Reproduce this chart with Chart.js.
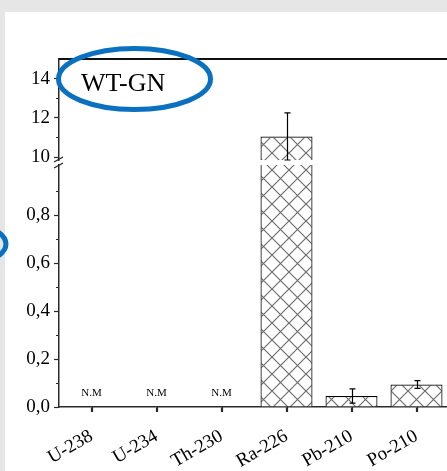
<!DOCTYPE html>
<html><head><meta charset="utf-8">
<script src="https://cdn.jsdelivr.net/npm/chart.js@4.4.1/dist/chart.umd.min.js"></script>
<style>
html,body{margin:0;padding:0;width:447px;height:471px;overflow:hidden;background:#e6e6e6;}
#panel{position:absolute;left:5px;top:12px;width:442px;height:459px;background:#fff;}
canvas{position:absolute;left:0;top:0;}
</style></head><body>
<div id="panel"></div>
<canvas id="lower" width="449" height="471" style="width:449px;height:471px"></canvas>
<canvas id="upper" width="449" height="471" style="width:449px;height:471px"></canvas>
<script>
// ---- data ----
const categories = ['U-238', 'U-234', 'Th-230', 'Ra-226', 'Pb-210', 'Po-210'];
const activity = [null, null, null, 11.05, 0.046, 0.094];
const errors = [null, null, null, 1.2, 0.03, 0.016];
const notMeasured = ['N.M', 'N.M', 'N.M', '', '', ''];
const nmLevel = 0.045;
const lowerRange = [0, 1.01];
const upperRange = [9.85, 15];
const lowerTicks = [0, 0.2, 0.4, 0.6, 0.8];
const lowerMinor = [0.1, 0.3, 0.5, 0.7, 0.9];
const upperTicks = [10, 12, 14];
const upperMinor = [11, 13];
const panelLabel = 'WT-GN';

// ---- styles ----
const FONT = '"Liberation Serif", "Times New Roman", serif';
const AXIS = '#2a2a2a';
function hatch() {
  const c = document.createElement('canvas'); c.width = c.height = 17;
  const g = c.getContext('2d');
  g.fillStyle = '#fff'; g.fillRect(0, 0, 17, 17);
  g.strokeStyle = '#6e6e6e'; g.lineWidth = 1.2;
  g.beginPath(); g.moveTo(0, 0); g.lineTo(17, 17); g.moveTo(17, 0); g.lineTo(0, 17); g.stroke();
  return g.createPattern(c, 'repeat');
}
const pattern = hatch();

const dataset = () => ({
  data: activity, backgroundColor: pattern, borderColor: '#000', borderWidth: 1.2,
  barPercentage: 0.8, categoryPercentage: 1.0
});

const errorBars = {
  id: 'errorBars',
  afterDatasetsDraw(chart) {
    const ctx = chart.ctx, x = chart.scales.x, y = chart.scales.y, a = chart.chartArea;
    ctx.save();
    ctx.beginPath(); ctx.rect(a.left, a.top - 1, a.right - a.left, a.bottom - a.top + 2); ctx.clip();
    ctx.strokeStyle = '#000'; ctx.lineWidth = 1.2;
    activity.forEach((v, i) => {
      if (v == null || errors[i] == null) return;
      const px = Math.round(x.getPixelForValue(i)) + 0.5;
      const y1 = y.getPixelForValue(v + errors[i]);
      const y2 = y.getPixelForValue(v - errors[i]);
      ctx.beginPath();
      ctx.moveTo(px, y1); ctx.lineTo(px, y2);
      ctx.moveTo(px - 3, y1); ctx.lineTo(px + 3, y1);
      ctx.moveTo(px - 3, y2); ctx.lineTo(px + 3, y2);
      ctx.stroke();
    });
    ctx.restore();
  }
};

function minorTicks(values, withX) {
  return {
    id: 'minorTicks',
    afterDraw(chart) {
      const ctx = chart.ctx, y = chart.scales.y, a = chart.chartArea;
      ctx.save(); ctx.strokeStyle = AXIS; ctx.lineWidth = 1;
      values.forEach(v => {
        const py = Math.round(y.getPixelForValue(v)) + 0.5;
        ctx.beginPath(); ctx.moveTo(a.left - 3, py); ctx.lineTo(a.left, py); ctx.stroke();
      });
      if (withX) {
        const x = chart.scales.x;
        ctx.lineWidth = 1.2;
        categories.forEach((c, i) => {
          const px = Math.round(x.getPixelForValue(i)) + 0.5;
          ctx.beginPath(); ctx.moveTo(px, a.bottom); ctx.lineTo(px, a.bottom + 5); ctx.stroke();
        });
      }
      ctx.restore();
    }
  };
}

function yScale(range, ticks, fmt) {
  return {
    min: range[0], max: range[1],
    afterFit(s) { s.width = 59; },
    afterBuildTicks(s) { s.ticks = ticks.map(v => ({ value: v })); },
    ticks: { font: { family: FONT, size: 19 }, color: '#000', padding: 4, callback: fmt },
    grid: { drawOnChartArea: false, tickLength: 5, tickColor: AXIS, tickWidth: 1.2 },
    border: { color: AXIS, width: 1.5 }
  };
}

// ---- lower segment ----
new Chart(document.getElementById('lower'), {
  type: 'bar',
  data: { labels: categories, datasets: [dataset()] },
  options: {
    responsive: false, animation: false,
    layout: { padding: { top: 165, left: 0, right: 0, bottom: 0 } },
    plugins: { legend: { display: false }, tooltip: { enabled: false } },
    scales: {
      x: {
        afterFit(s) { s.height = 64; },
        ticks: { font: { family: FONT, size: 19 }, color: '#000', maxRotation: 30, minRotation: 30, autoSkip: false, padding: 13 },
        grid: { offset: false, drawOnChartArea: false, tickLength: 5, tickColor: AXIS, tickWidth: 1.2 },
        border: { color: AXIS, width: 1.5 }
      },
      y: yScale(lowerRange, lowerTicks, v => v.toFixed(1).replace('.', ','))
    }
  },
  plugins: [errorBars, minorTicks(lowerMinor, true), {
    id: 'nm',
    afterDraw(chart) {
      const ctx = chart.ctx, x = chart.scales.x, y = chart.scales.y;
      ctx.save(); ctx.fillStyle = '#000'; ctx.font = '11px ' + FONT;
      ctx.textAlign = 'center'; ctx.textBaseline = 'alphabetic';
      notMeasured.forEach((t, i) => { if (t) ctx.fillText(t, x.getPixelForValue(i), y.getPixelForValue(nmLevel)); });
      ctx.restore();
    }
  }]
});

// ---- upper segment ----
new Chart(document.getElementById('upper'), {
  type: 'bar',
  data: { labels: categories, datasets: [dataset()] },
  options: {
    responsive: false, animation: false,
    layout: { padding: { top: 59, left: 0, right: 0, bottom: 311 } },
    plugins: { legend: { display: false }, tooltip: { enabled: false } },
    scales: {
      x: { display: false },
      y: yScale(upperRange, upperTicks, v => String(v))
    }
  },
  plugins: [errorBars, minorTicks(upperMinor, false), {
    id: 'frame',
    afterDraw(chart) {
      const ctx = chart.ctx, a = chart.chartArea;
      ctx.save();
      // top frame line
      ctx.strokeStyle = '#111'; ctx.lineWidth = 2;
      ctx.beginPath(); ctx.moveTo(a.left, a.top); ctx.lineTo(a.right, a.top); ctx.stroke();
      // axis break marks
      ctx.strokeStyle = '#222'; ctx.lineWidth = 1.2;
      ctx.beginPath();
      ctx.moveTo(a.left - 5, a.bottom + 2); ctx.lineTo(a.left + 4, a.bottom - 3);
      ctx.moveTo(a.left - 5, a.bottom + 8); ctx.lineTo(a.left + 4, a.bottom + 3);
      ctx.stroke();
      // panel label
      ctx.fillStyle = '#000'; ctx.font = '26px ' + FONT;
      ctx.textAlign = 'left'; ctx.textBaseline = 'alphabetic';
      ctx.fillText(panelLabel, 81, 91);
      // highlight ellipses
      ctx.strokeStyle = '#0a70c0'; ctx.lineWidth = 5;
      ctx.beginPath(); ctx.ellipse(134.5, 79, 76, 30.5, 0, 0, Math.PI * 2); ctx.stroke();
      ctx.beginPath(); ctx.ellipse(-60, 244, 66, 25, 0, 0, Math.PI * 2); ctx.stroke();
      ctx.restore();
    }
  }]
});
</script>
</body></html>
